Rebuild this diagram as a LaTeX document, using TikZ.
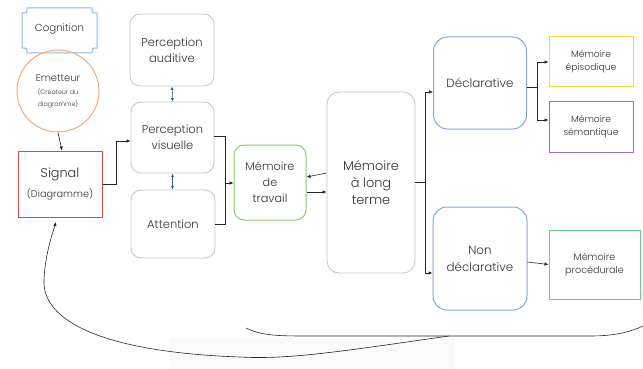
\documentclass[tikz,border=0pt]{standalone}
\usepackage{fontspec}
\setmainfont{Poppins Light}
\usetikzlibrary{arrows.meta}
\definecolor{txt}{HTML}{333333}
\definecolor{cogc}{HTML}{8DB8E2}
\definecolor{emc}{HTML}{F4A877}
\definecolor{sigc}{HTML}{E04848}
\definecolor{grayc}{HTML}{C4C4C4}
\definecolor{mdtc}{HTML}{8CCB67}
\definecolor{decc}{HTML}{86A5DC}
\definecolor{epic}{HTML}{FFD24D}
\definecolor{semc}{HTML}{9E6CCF}
\definecolor{proc}{HTML}{5FD08F}
\definecolor{dblc}{HTML}{2E5C8A}
\tikzset{
  base/.style={text=txt, align=center, inner sep=1pt},
  gbox/.style={base, draw=grayc, rounded corners=10pt, line width=0.8pt},
  rbox/.style={base, line width=1pt},
  conn/.style={draw=black!85, line width=0.6pt, -{Latex[length=4pt,width=3.5pt]}},
  dbl/.style={draw=dblc, line width=0.7pt, {Latex[length=3.5pt,width=3pt]}-{Latex[length=3.5pt,width=3pt]}},
  plain/.style={draw=black!85, line width=0.6pt}
}
\begin{document}
\begin{tikzpicture}[x=1pt,y=-1pt]
\useasboundingbox (0,0) rectangle (643,369);
% faint watermark
\fill[black!2] (170,338) rectangle (455,369);
% Cognition plaque
\draw[cogc, line width=1pt] (27,8) -- (92,8) .. controls (92,13) .. (97,13) -- (97,48)
  .. controls (92,48) .. (92,53) -- (27,53) .. controls (27,48) .. (22,48) -- (22,13)
  .. controls (27,13) .. (27,8) -- cycle;
\node[base, font=\fontsize{10.2}{12}\selectfont, minimum width=75, minimum height=45] (cog) at (59.5,29) {Cognition};
% Emetteur
\node[base, draw=emc, circle, line width=1pt, minimum size=82, font=\fontsize{9.9}{12}\selectfont] (em) at (58,91)
  {Emetteur\\[1pt]{\fontsize{6.3}{9}\selectfont (Créateur du}\\{\fontsize{6.3}{9}\selectfont diagramme)}};
% Signal
\node[rbox, draw=sigc, minimum width=84, minimum height=66] (sig) at (60,184)
  {{\fontsize{12.8}{15}\selectfont Signal}\\[6pt]{\fontsize{9.7}{11}\selectfont (Diagramme)}};
% perception boxes
\node[gbox, minimum width=84, minimum height=72, font=\fontsize{11.5}{16}\selectfont] (pa) at (172,50) {Perception\\auditive};
\node[gbox, minimum width=83, minimum height=71, font=\fontsize{11.5}{16}\selectfont] (pv) at (172.5,137.5) {Perception\\visuelle};
\node[gbox, minimum width=84, minimum height=68, font=\fontsize{11.5}{16}\selectfont] (att) at (173,224) {Attention};
% memoire de travail
\node[gbox, draw=mdtc, line width=1pt, minimum width=72, minimum height=75, font=\fontsize{11.3}{16}\selectfont] (mdt) at (270,182.5) {Mémoire\\de\\travail};
% memoire a long terme
\node[gbox, minimum width=88, minimum height=181, rounded corners=12pt, font=\fontsize{12.9}{17}\selectfont] (mlt) at (371,182.5) {Mémoire\\à long\\terme};
% declarative
\node[gbox, draw=decc, line width=1pt, minimum width=93, minimum height=92, rounded corners=14pt, font=\fontsize{11.9}{17}\selectfont] (dec) at (480,83) {Déclarative};
\node[gbox, draw=decc, line width=1pt, minimum width=94, minimum height=103, rounded corners=14pt, font=\fontsize{11.9}{17}\selectfont] (nd) at (480,258.5) {Non\\déclarative};
% right boxes
\node[rbox, draw=epic, minimum width=84, minimum height=50, font=\fontsize{9.2}{13}\selectfont] (epi) at (591,62) {Mémoire\\épisodique};
\node[rbox, draw=semc, minimum width=84, minimum height=51, font=\fontsize{9.2}{13}\selectfont] (sem) at (591,127) {Mémoire\\sémantique};
\node[rbox, draw=proc, minimum width=91, minimum height=69, font=\fontsize{9.6}{13.5}\selectfont] (pro) at (594.5,264.5) {Mémoire\\procédurale};
% connectors
\draw[conn] (em.south) -- ([xshift=2]sig.north);
\draw[conn] (sig.east) -- ++(14,0) |- ([yshift=-3.5]pv.west);
\draw[dbl] (pa.south) -- (pv.north);
\draw[dbl] (pv.south) -- ([xshift=-0.5]att.north);
\coordinate (j1) at (225,183);
\draw[plain] ([yshift=1]pv.east) -| (j1);
\draw[plain] (att.east) -| (j1);
\draw[conn] (j1) -- (j1 -| mdt.west);
\draw[conn] ([yshift=9.5]mlt.west) -- ([yshift=5.5]mdt.east);
\draw[conn] ([yshift=-9.5]mdt.east) -- ([yshift=-9.5]mlt.west);
\coordinate (j2) at (425,182.5);
\draw[plain] (mlt.east) -- (j2);
\draw[conn] (j2) |- ([yshift=-9]dec.west);
\draw[conn] (j2) |- ([yshift=-14.5]nd.west);
\coordinate (j3) at (537,87);
\draw[plain] ([yshift=-4]dec.east) -- (j3);
\draw[conn] (j3) |- (epi.west);
\draw[conn] (j3) |- ([yshift=7]sem.west);
\draw[conn] ([yshift=-3.5]nd.east) -- (pro.west);
% brace and feedback arrow
\coordinate (bl) at (246,328);
\coordinate (bm) at (449,336);
\coordinate (br) at (643,326);
\coordinate (sigin) at (56,222);
\draw[plain] (bl) .. controls (262,336) and (280,336) .. (310,336) -- (bm) -- (590,336) .. controls (615,336) and (630,332) .. (br);
\draw[conn] (bm) .. controls (350,350) and (290,360) .. (240,357)
  .. controls (100,352) and (42,320) .. (44,280)
  .. controls (45,255) and (52,235) .. (sigin);
\end{tikzpicture}
\end{document}
